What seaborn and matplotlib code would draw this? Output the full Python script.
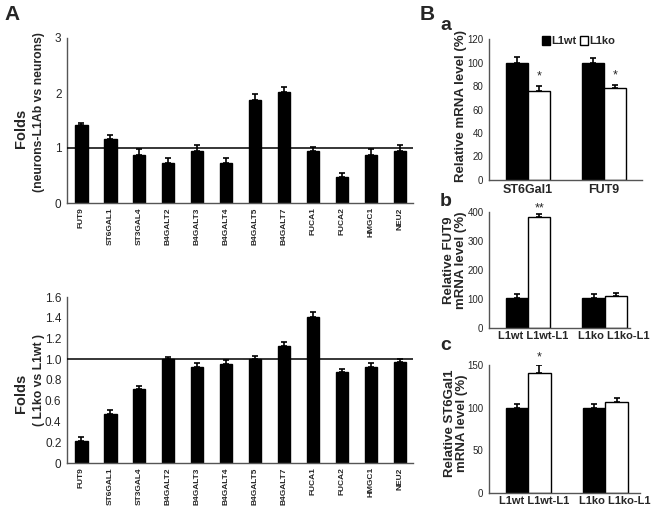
import numpy as np
import pandas as pd
import matplotlib
matplotlib.use('Agg')
import matplotlib.pyplot as plt
import matplotlib.patches as mpatches
import seaborn as sns

# ---- data ----
genes = ['FUT9', 'ST6GAL1', 'ST3GAL4', 'B4GALT2', 'B4GALT3', 'B4GALT4',
         'B4GALT5', 'B4GALT7', 'FUCA1', 'FUCA2', 'HMGC1', 'NEU2']
folds_l1ab = [1.42, 1.16, 0.88, 0.72, 0.94, 0.72, 1.88, 2.01, 0.94, 0.48, 0.88, 0.94]
folds_l1ab_err = [0.04, 0.07, 0.10, 0.10, 0.11, 0.10, 0.10, 0.10, 0.07, 0.06, 0.10, 0.11]
folds_ko = [0.21, 0.47, 0.71, 1.00, 0.93, 0.95, 1.00, 1.13, 1.41, 0.88, 0.93, 0.97]
folds_ko_err = [0.04, 0.04, 0.03, 0.02, 0.03, 0.04, 0.03, 0.04, 0.05, 0.03, 0.03, 0.03]

genotypes = ['L1wt', 'L1ko']
genes_b = ['ST6Gal1', 'FUT9']
mrna_wt = [100, 100]
mrna_wt_err = [5, 4]
mrna_ko = [76, 78]
mrna_ko_err = [4, 3]

treat = ['ctl', 'L1']
cond_labels = ['L1wt L1wt-L1', 'L1ko L1ko-L1']
fut9_ctl = [102, 102]
fut9_ctl_err = [14, 15]
fut9_l1 = [382, 111]
fut9_l1_err = [12, 9]
st6_ctl = [100, 100]
st6_ctl_err = [4, 4]
st6_l1 = [141, 107]
st6_l1_err = [9, 4]

# ---- style ----
sns.set_style('white')
plt.rcParams['font.family'] = ['Liberation Sans', 'DejaVu Sans']
GREY = '#555555'

W, H = 656, 508
fig = plt.figure(figsize=(W / 100, H / 100), dpi=100)


def box(x0, y0, x1, y1):
    # pixel box (top-left origin) -> figure fraction
    return [x0 / W, 1 - y1 / H, (x1 - x0) / W, (y1 - y0) / H]


def ftext(x, y, s, **kw):
    fig.text(x / W, 1 - y / H, s, ha='center', va='center', **kw)


def style_ax(ax, ysize):
    sns.despine(ax=ax)
    for sp in ['left', 'bottom']:
        ax.spines[sp].set_color(GREY)
        ax.spines[sp].set_linewidth(1.0)
    ax.tick_params(axis='y', length=3, width=0.8, color=GREY, labelsize=ysize, pad=1)
    ax.tick_params(axis='x', length=0)
    ax.set_xlabel('')
    ax.set_ylabel('')


def add_err(ax, vals, errs):
    bars = sorted(ax.patches, key=lambda p: p.get_x())
    xs = [p.get_x() + p.get_width() / 2 for p in bars]
    ax.errorbar(xs, vals, yerr=[np.zeros(len(errs)), errs], fmt='none',
                ecolor='black', elinewidth=1.2, capsize=2.5, capthick=1.2, zorder=3)
    return xs


def gene_panel(rect, vals, errs, ylim, yticks, yticklabels):
    ax = fig.add_axes(rect)
    df = pd.DataFrame({'gene': genes, 'fold': vals})
    sns.barplot(data=df, x='gene', y='fold', color='black', width=0.42,
                saturation=1, edgecolor='black', ax=ax)
    add_err(ax, vals, errs)
    ax.axhline(1.0, color='black', lw=1.1, zorder=4)
    ax.set_ylim(*ylim)
    ax.set_xlim(-0.5, 11.45)
    ax.set_yticks(yticks)
    ax.set_yticklabels(yticklabels)
    style_ax(ax, 8.5)
    ax.set_xticks(range(len(genes)))
    ax.set_xticklabels(genes, rotation=90, fontsize=6, fontweight='bold')
    ax.tick_params(axis='x', pad=3)
    return ax


# ---- panel A ----
gene_panel(box(67, 38, 413, 203), folds_l1ab, folds_l1ab_err, (0, 3),
           [0, 1, 2, 3], ['0', '1', '2', '3'])
gene_panel(box(67, 297, 413, 463), folds_ko, folds_ko_err, (0, 1.6),
           np.arange(0, 1.61, 0.2), ['0', '0.2', '0.4', '0.6', '0.8', '1.0', '1.2', '1.4', '1.6'])

ftext(21, 128, 'Folds', fontsize=10.5, fontweight='bold', rotation=90)
ftext(39, 112, '(neurons-L1Ab vs neurons)', fontsize=8.8, fontweight='bold', rotation=90)
ftext(21, 393, 'Folds', fontsize=10.5, fontweight='bold', rotation=90)
ftext(39, 380, '( L1ko vs L1wt )', fontsize=8.8, fontweight='bold', rotation=90)


# ---- panel B ----
def pair_panel(rect, groups, hues, v0, e0, v1, e1, ylim, yticks, xright):
    ax = fig.add_axes(rect)
    df = pd.DataFrame({'group': groups * 2,
                       'hue': [hues[0]] * 2 + [hues[1]] * 2,
                       'val': v0 + v1})
    sns.barplot(data=df, x='group', y='val', hue='hue', order=groups, hue_order=hues,
                palette={hues[0]: 'black', hues[1]: 'white'}, width=0.58, gap=0,
                saturation=1, edgecolor='black', linewidth=1.0, legend=False, ax=ax)
    # values sorted by bar x position: g0h0, g0h1, g1h0, g1h1
    vals = [v0[0], v1[0], v0[1], v1[1]]
    errs = [e0[0], e1[0], e0[1], e1[1]]
    xs = add_err(ax, vals, errs)
    ax.set_ylim(*ylim)
    ax.set_xlim(-0.51, xright)
    ax.set_yticks(yticks)
    ax.set_yticklabels([str(t) for t in yticks])
    style_ax(ax, 7)
    return ax, xs, vals, errs


def cond_ticks(ax):
    # one label pair under each group, nudged right as in the original
    ax.set_xticks([0.07, 1.12])
    ax.set_xticklabels(cond_labels, fontsize=8, fontweight='bold')
    ax.tick_params(axis='x', pad=2)


ax_a, xs_a, vals_a, errs_a = pair_panel(box(489, 39, 642, 180), genes_b, genotypes,
                                        mrna_wt, mrna_wt_err, mrna_ko, mrna_ko_err,
                                        (0, 120), list(range(0, 121, 20)), 1.5)
ax_a.set_xticks([0, 1])
ax_a.set_xticklabels(genes_b, fontsize=9, fontweight='bold')
ax_a.tick_params(axis='x', pad=3)
for i in (1, 3):
    ax_a.text(xs_a[i], vals_a[i] + errs_a[i] + 3, '*', ha='center', va='bottom', fontsize=9)
handles = [mpatches.Patch(facecolor='black', edgecolor='black', label='L1wt'),
           mpatches.Patch(facecolor='white', edgecolor='black', label='L1ko')]
ax_a.legend(handles=handles, ncol=2, frameon=False, loc='upper left',
            bbox_to_anchor=(0.28, 1.09), handlelength=0.7, handleheight=0.8,
            handletextpad=0.15, columnspacing=0.3, prop={'weight': 'bold', 'size': 8})
ftext(461, 106, 'Relative mRNA level (%)', fontsize=9.5, fontweight='bold', rotation=90)

ax_b, xs_b, vals_b, errs_b = pair_panel(box(489, 212, 630, 328), genotypes, treat,
                                        fut9_ctl, fut9_ctl_err, fut9_l1, fut9_l1_err,
                                        (0, 400), list(range(0, 401, 100)), 1.33)
cond_ticks(ax_b)
ax_b.text(xs_b[1], vals_b[1] + errs_b[1] - 2, '**', ha='center', va='bottom', fontsize=9)
ftext(455, 260, 'Relative FUT9\nmRNA level (%)', fontsize=9.5, fontweight='bold',
      rotation=90, linespacing=1.0)

ax_c, xs_c, vals_c, errs_c = pair_panel(box(489, 365, 640, 493), genotypes, treat,
                                        st6_ctl, st6_ctl_err, st6_l1, st6_l1_err,
                                        (0, 150), [0, 50, 100, 150], 1.45)
cond_ticks(ax_c)
ax_c.text(xs_c[1], vals_c[1] + errs_c[1] + 2, '*', ha='center', va='bottom', fontsize=9)
ftext(456, 423, 'Relative ST6Gal1\nmRNA level (%)', fontsize=9.5, fontweight='bold',
      rotation=90, linespacing=1.0)

# ---- panel letters ----
ftext(12, 15, 'A', fontsize=15, fontweight='bold')
ftext(427, 14, 'B', fontsize=15, fontweight='bold')
ftext(446, 25, 'a', fontsize=14, fontweight='bold')
ftext(446, 202, 'b', fontsize=14, fontweight='bold')
ftext(446, 345, 'c', fontsize=14, fontweight='bold')

fig.savefig('out.png', dpi=100)
